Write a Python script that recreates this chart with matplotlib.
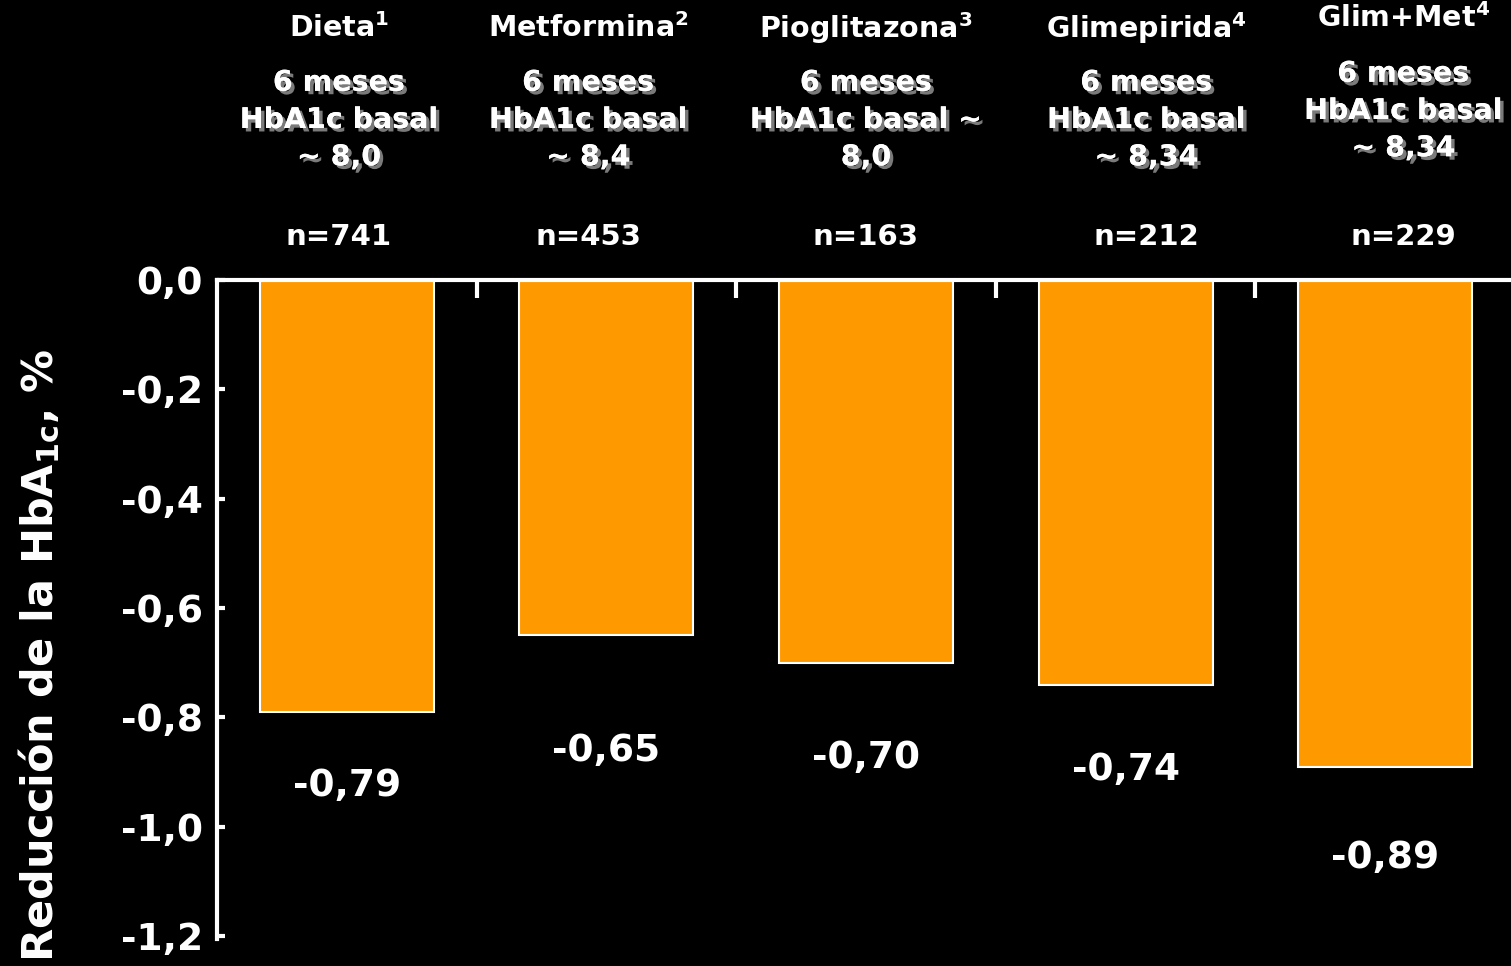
import matplotlib
matplotlib.use("Agg")
import matplotlib.pyplot as plt
import matplotlib.patheffects as pe
from matplotlib.transforms import blended_transform_factory

# Data
treatments = ["Dieta$^{1}$", "Metformina$^{2}$", "Pioglitazona$^{3}$", "Glimepirida$^{4}$", "Glim+Met$^{4}$"]
details = [
    "6 meses\nHbA1c basal\n~ 8,0",
    "6 meses\nHbA1c basal\n~ 8,4",
    "6 meses\nHbA1c basal ~\n8,0",
    "6 meses\nHbA1c basal\n~ 8,34",
    "6 meses\nHbA1c basal\n~ 8,34",
]
sample_sizes = [741, 453, 163, 212, 229]
hba1c_change = [-0.79, -0.65, -0.70, -0.74, -0.89]
yticks = [0.0, -0.2, -0.4, -0.6, -0.8, -1.0, -1.2]
ytick_labels = ["0,0", "-0,2", "-0,4", "-0,6", "-0,8", "-1,0", "-1,2"]

# Layout helpers (header rows in pixels from the top edge)
header_x = [-0.03, 0.93, 2.0, 3.08, 4.07]
title_px = [28, 28, 28, 28, 18]
detail_px = [120, 120, 120, 120, 111]
label_y = [-0.925, -0.861, -0.874, -0.896, -1.057]

plt.rcParams["mathtext.fontset"] = "dejavusans"
plt.rcParams["mathtext.default"] = "bf"
plt.rcParams["font.family"] = ["DejaVu Sans"]

W, H = 1511, 966
fig = plt.figure(figsize=(W / 100, H / 100), dpi=100, facecolor="black")
ax = fig.add_axes([217 / W, 1 - 936 / H, (1515 - 217) / W, (936 - 280) / H])
ax.set_facecolor("black")

x = list(range(len(treatments)))
ax.bar(x, hba1c_change, width=0.67, color="#FF9900", edgecolor="white", linewidth=1.5, zorder=2)

ax.set_xlim(-0.5, len(treatments) - 0.5)
ax.set_ylim(-1.2, 0)

for s in ["bottom", "right"]:
    ax.spines[s].set_visible(False)
for s in ["top", "left"]:
    ax.spines[s].set_color("white")
    ax.spines[s].set_linewidth(3)
ax.spines["left"].set_bounds(-1.205, 0)

ax.set_yticks(yticks)
ax.set_yticklabels(ytick_labels)
ax.tick_params(axis="y", direction="in", length=6, width=3, color="white",
               labelcolor="white", labelsize=27, pad=10)
for lbl in ax.get_yticklabels():
    lbl.set_fontweight("bold")

ax.xaxis.tick_top()
ax.set_xticks([i + 0.5 for i in x[:-1]])
ax.set_xticklabels([])
ax.tick_params(axis="x", direction="in", length=13, width=3, color="white")

# Value labels under each bar
for xi, v, ly in zip(x, hba1c_change, label_y):
    ax.text(xi, ly, f"{v:.2f}".replace(".", ","), ha="center", va="center",
            color="white", fontsize=27, fontweight="bold")

# Column headers above the plot
trans = blended_transform_factory(ax.transData, fig.transFigure)
shadow = [pe.withSimplePatchShadow(offset=(2.5, -2.5), shadow_rgbFace="#888888", alpha=0.9), pe.Normal()]
for hx, name, det, n, ty, dy in zip(header_x, treatments, details, sample_sizes, title_px, detail_px):
    ax.text(hx, 1 - ty / H, name, transform=trans, ha="center", va="center",
            color="white", fontsize=20.5, fontweight="bold")
    ax.text(hx, 1 - dy / H, det, transform=trans, ha="center", va="center",
            color="white", fontsize=20.5, fontweight="bold", linespacing=1.42,
            path_effects=shadow)
    ax.text(hx, 1 - 237 / H, f"n={n}", transform=trans, ha="center", va="center",
            color="white", fontsize=21, fontweight="bold")

fig.text(40 / W, 1 - 655 / H, "Reducción de la HbA$_{1c}$, %", rotation=90,
         ha="center", va="center", color="white", fontsize=31, fontweight="bold")

fig.savefig("out.png", dpi=100, facecolor="black")
